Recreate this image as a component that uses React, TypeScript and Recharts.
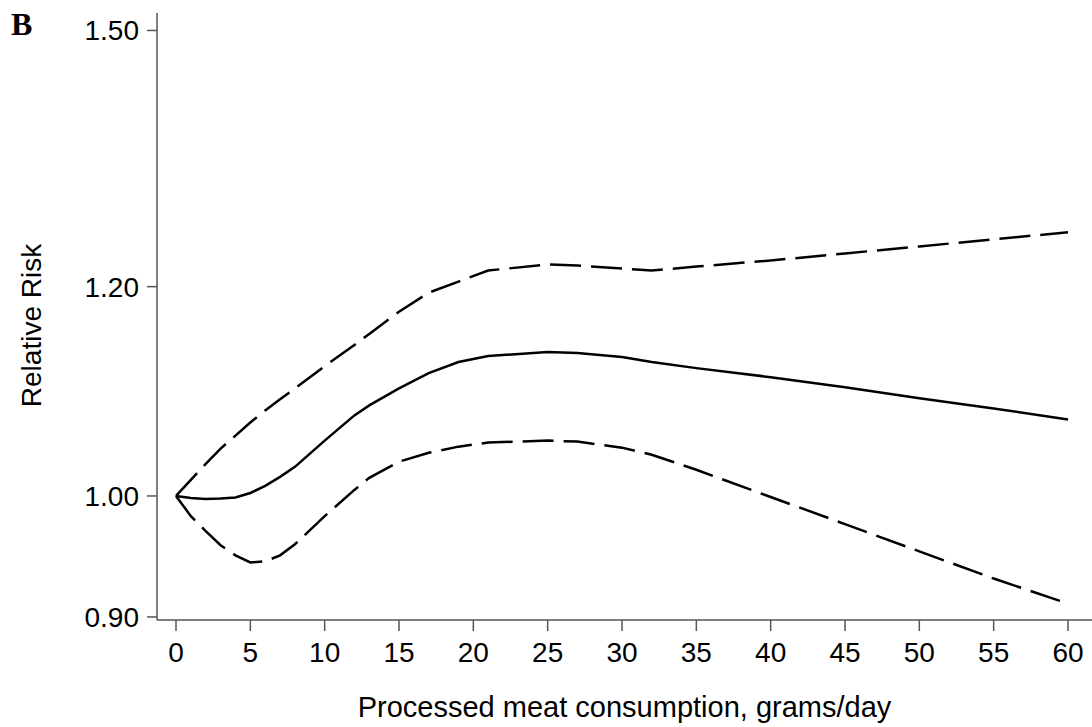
import { LineChart, Line, XAxis, YAxis } from "recharts";

// Processed meat (g/day) and relative risk
const grams = [0, 1, 2, 3, 4, 5, 6, 7, 8, 10, 12, 13, 15, 17, 19, 21, 25, 27, 30, 32, 35, 40, 45, 50, 55, 60];
const relRisk = [
  1.0, 0.9982, 0.9974, 0.9978, 0.9987, 1.0026, 1.0088, 1.0168, 1.0257, 1.0494, 1.0727, 1.0821, 1.0983,
  1.1129, 1.1237, 1.1296, 1.1335, 1.1325, 1.1286, 1.1237, 1.1178, 1.109, 1.0993, 1.0888, 1.0792, 1.0689,
];
const upperCI = [
  1.0, 1.0141, 1.0284, 1.0421, 1.054, 1.0661, 1.0774, 1.0878, 1.0983, 1.1197, 1.1405, 1.1516, 1.174,
  1.1937, 1.2053, 1.217, 1.2234, 1.2223, 1.2191, 1.217, 1.2212, 1.2277, 1.2352, 1.2428, 1.2505, 1.2582,
];
const lowerCI = [
  1.0, 0.9826, 0.9698, 0.958, 0.9496, 0.9438, 0.9446, 0.9496, 0.9588, 0.9826, 1.0053, 1.0159, 1.0303,
  1.0384, 1.0439, 1.0476, 1.0494, 1.0485, 1.043, 1.0366, 1.0231, 0.9991, 0.9758, 0.9529, 0.9306, 0.9105,
];

const xTicks = [0, 5, 10, 15, 20, 25, 30, 35, 40, 45, 50, 55, 60];
const yTicks = [0.9, 1.0, 1.2, 1.5];

const data = grams.map((g, i) => ({
  g,
  rr: relRisk[i],
  hi: upperCI[i],
  lo: lowerCI[i],
}));

const font = "'Liberation Sans', Arial, sans-serif";
const axisColor = "#555";

function YLabel(props: any) {
  const vb = props.viewBox || { x: 0, y: 0, width: 0, height: 0 };
  const x = vb.x + 41;
  const y = vb.y + vb.height / 2 + 9;
  return (
    <text
      x={x}
      y={y}
      transform={`rotate(-90, ${x}, ${y})`}
      textAnchor="middle"
      fontFamily={font}
      fontSize={28}
      fill="#000"
    >
      Relative Risk
    </text>
  );
}

export default function App() {
  return (
    <div style={{ position: "absolute", left: 0, top: 0, width: 1092, height: 727, background: "#fff" }}>
      <div
        style={{
          position: "absolute",
          left: 11,
          top: 6,
          fontFamily: "'Liberation Serif', 'Times New Roman', serif",
          fontWeight: "bold",
          fontSize: 32,
          lineHeight: "36px",
        }}
      >
        B
      </div>
      <LineChart width={1092} height={727} data={data} margin={{ top: 13, right: 0, bottom: 0, left: 0 }}>
        <XAxis
          dataKey="g"
          type="number"
          domain={[0, 60]}
          ticks={xTicks}
          padding={{ left: 19, right: 24 }}
          height={107}
          stroke={axisColor}
          strokeWidth={1.5}
          tickSize={11}
          tickMargin={11}
          tick={{ fontSize: 28, fontFamily: font, fill: "#000" }}
          label={{
            value: "Processed meat consumption, grams/day",
            position: "insideBottom",
            offset: 10,
            fontSize: 29,
            fontFamily: font,
            fill: "#000",
          }}
        />
        <YAxis
          scale="log"
          domain={[0.8976, 1.523]}
          allowDataOverflow
          ticks={yTicks}
          tickFormatter={(v: number) => v.toFixed(2)}
          width={157}
          stroke={axisColor}
          strokeWidth={1.5}
          tickSize={10}
          tickMargin={8}
          tick={{ fontSize: 28, fontFamily: font, fill: "#000" }}
          label={{ content: YLabel }}
        />
        <Line type="linear" dataKey="hi" stroke="#000" strokeWidth={2.5} strokeDasharray="31 10" dot={false} isAnimationActive={false} />
        <Line type="linear" dataKey="rr" stroke="#000" strokeWidth={2.5} dot={false} isAnimationActive={false} />
        <Line type="linear" dataKey="lo" stroke="#000" strokeWidth={2.5} strokeDasharray="31 10" dot={false} isAnimationActive={false} />
      </LineChart>
    </div>
  );
}
